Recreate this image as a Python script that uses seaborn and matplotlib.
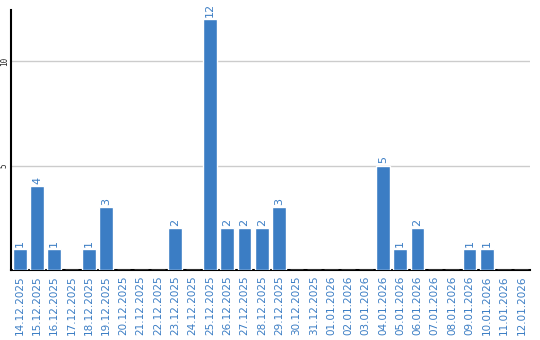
import matplotlib
matplotlib.use("Agg")
import matplotlib.pyplot as plt
import seaborn as sns
import pandas as pd

dates = ["14.12.2025", "15.12.2025", "16.12.2025", "17.12.2025", "18.12.2025",
         "19.12.2025", "20.12.2025", "21.12.2025", "22.12.2025", "23.12.2025",
         "24.12.2025", "25.12.2025", "26.12.2025", "27.12.2025", "28.12.2025",
         "29.12.2025", "30.12.2025", "31.12.2025", "01.01.2026", "02.01.2026",
         "03.01.2026", "04.01.2026", "05.01.2026", "06.01.2026", "07.01.2026",
         "08.01.2026", "09.01.2026", "10.01.2026", "11.01.2026", "12.01.2026"]
counts = [1, 4, 1, 0, 1, 3, 0, 0, 0, 2, 0, 12, 2, 2, 2, 3, 0, 0, 0, 0, 0,
          5, 1, 2, 0, 0, 1, 1, 0, 0]
yticks = [5, 10]

df = pd.DataFrame({"date": dates, "count": counts})
blue = "#3b7dc4"

sns.set_style("white")
fig = plt.figure(figsize=(5.4, 3.4), dpi=100)
ax = fig.add_axes([11 / 540, 1 - 270 / 340, 519 / 540, 260 / 340])
sns.barplot(data=df, x="date", y="count", color=blue, saturation=1, width=0.8, ax=ax, zorder=3)

for p, v in zip(ax.patches, counts):
    if v > 0:
        ax.text(p.get_x() + p.get_width() / 2, v + 0.12, str(v), rotation=90,
                ha="center", va="bottom", color=blue, fontsize=8)

ax.set_ylim(0, 12.45)
ax.set_xlim(-0.5, len(dates) - 0.5)
ax.set_yticks(yticks)
ax.set_yticklabels([str(t) for t in yticks], rotation=90, fontsize=5.5, va="center",
                   family="DejaVu Sans Mono")
ax.yaxis.grid(True, color="#cccccc", linewidth=1, zorder=0)
ax.tick_params(axis="y", length=0, pad=1.5)
ax.tick_params(axis="x", length=0, pad=4)
ax.set_xticks(range(len(dates)))
ax.set_xticklabels(dates, rotation=90, color=blue, fontsize=7.5)
ax.set_xlabel("")
ax.set_ylabel("")
for s in ["top", "right"]:
    ax.spines[s].set_visible(False)
for s in ["left", "bottom"]:
    ax.spines[s].set_color("black")
    ax.spines[s].set_linewidth(1.5)

fig.savefig("out.png", dpi=100)
